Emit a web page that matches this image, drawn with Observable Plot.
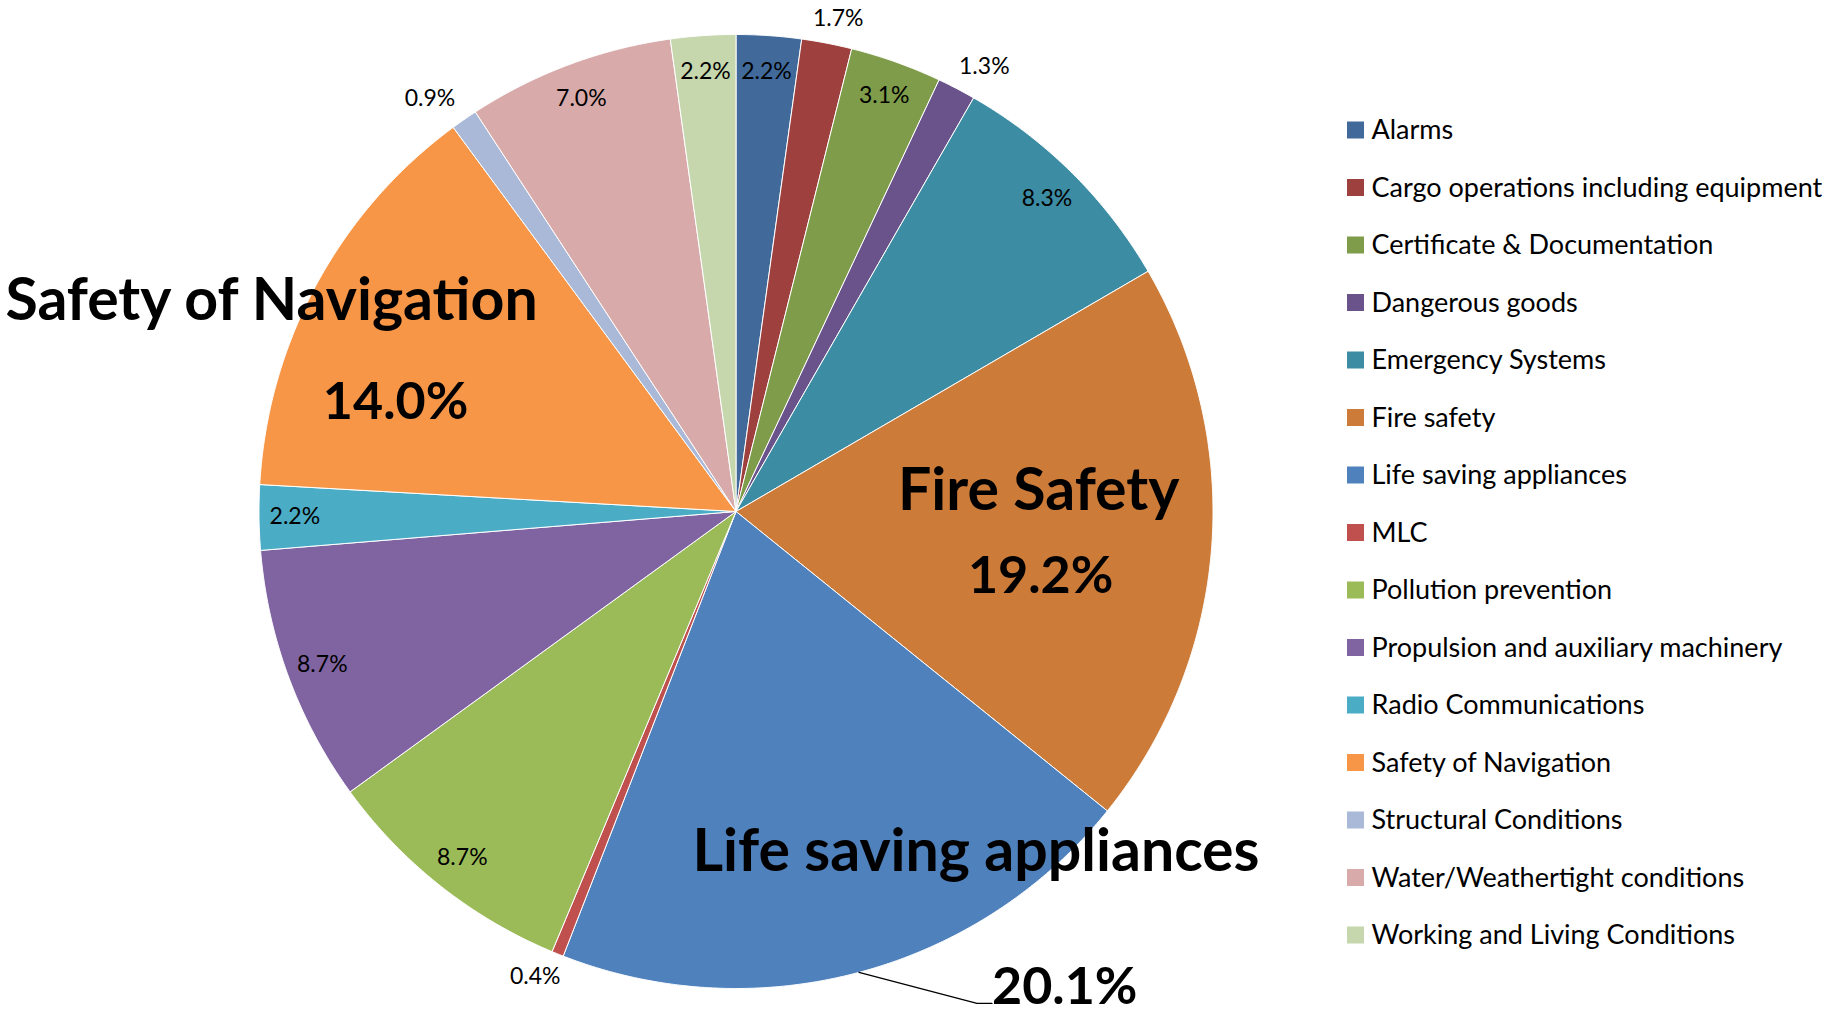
<!DOCTYPE html>
<html>
<head>
<meta charset="utf-8">
<script src="https://cdn.jsdelivr.net/npm/d3@7"></script>
<script src="https://cdn.jsdelivr.net/npm/@observablehq/plot@0.6"></script>
<style>
  html, body { margin: 0; padding: 0; background: #fff; }
  #chart svg { display: block; }
</style>
</head>
<body>
<div id="chart"></div>
<script>
// ---- data ----
const categories = [
  "Alarms",
  "Cargo operations including equipment",
  "Certificate & Documentation",
  "Dangerous goods",
  "Emergency Systems",
  "Fire safety",
  "Life saving appliances",
  "MLC",
  "Pollution prevention",
  "Propulsion and auxiliary machinery",
  "Radio Communications",
  "Safety of Navigation",
  "Structural Conditions",
  "Water/Weathertight conditions",
  "Working and Living Conditions"
];
const values = [2.2, 1.7, 3.1, 1.3, 8.3, 19.2, 20.1, 0.4, 8.7, 8.7, 2.2, 14.0, 0.9, 7.0, 2.2];
const colors = [
  "#416a9b", "#9e413e", "#7f9c4a", "#69538a", "#3c8ca3",
  "#cc7b39", "#4f81bd", "#c0504d", "#9bbb59", "#8064a2",
  "#4bacc6", "#f79646", "#aab9d7", "#d9aaaa", "#c6d6ad"
];
// highlighted categories with their large annotation names
const bigNames = ["Fire safety", "Life saving appliances", "Safety of Navigation"];
const bigTitles = ["Fire Safety", "Life saving appliances", "Safety of Navigation"];

// ---- layout ----
const W = 1845, H = 1017;
const CX = 735.5, CY = 511, R = 477;
const FONT = "Lato, 'Open Sans', sans-serif";
const bigLayout = {
  "Fire safety":            {ndx: -173, ndy: -56, pdx: -171, pdy: 29, anchor: "middle", leader: null},
  "Life saving appliances": {ndx: 117, ndy: -120, pdx: 133, pdy: 15, anchor: "start", leader: [[118, 31], [133, 31]]},
  "Safety of Navigation":   {ndx: -45, ndy: 17, pdx: 79, pdy: 118, anchor: "middle", leader: null}
};

const table = categories.map((c, i) => ({category: c, value: values[i]}));
const arcs = d3.pie().sort(null).value(d => d.value)(table);
const pt = (a, r) => [CX + r * Math.sin(a), CY - r * Math.cos(a)];

// slice polygons
const slicePts = [];
for (const a of arcs) {
  const n = Math.max(2, Math.ceil((a.endAngle - a.startAngle) / (Math.PI / 720)));
  slicePts.push({category: a.data.category, x: CX, y: CY});
  for (let k = 0; k <= n; k++) {
    const ang = a.startAngle + (a.endAngle - a.startAngle) * k / n;
    const [x, y] = pt(ang, R);
    slicePts.push({category: a.data.category, x, y});
  }
  slicePts.push({category: a.data.category, x: CX, y: CY});
}

// small percentage labels
const fmt = v => v.toFixed(1) + "%";
const smallLabels = [];
for (const a of arcs) {
  if (bigNames.includes(a.data.category)) continue;
  const mid = (a.startAngle + a.endAngle) / 2;
  const v = a.data.value;
  if (v >= 2) {
    const [x, y] = pt(mid, R * 0.925);
    smallLabels.push({x, y, text: fmt(v)});
  } else {
    const [x0, y0] = pt(mid, R + 20);
    const x = x0 + Math.sin(mid) * 40;
    const y = y0 - Math.cos(mid) * 5;
    smallLabels.push({x, y, text: fmt(v)});
  }
}

// big labels
const bigNameLabels = [], bigPctLabels = [], leaders = [];
for (const a of arcs) {
  const idx = bigNames.indexOf(a.data.category);
  if (idx < 0) continue;
  const L = bigLayout[a.data.category];
  const mid = (a.startAngle + a.endAngle) / 2;
  const [ex, ey] = pt(mid, R);
  bigNameLabels.push({x: ex + L.ndx, y: ey + L.ndy, text: bigTitles[idx]});
  bigPctLabels.push({x: ex + L.pdx, y: ey + L.pdy, text: fmt(a.data.value), anchor: L.anchor});
  if (L.leader) {
    leaders.push({x: ex, y: ey, id: a.data.category});
    for (const [dx, dy] of L.leader) leaders.push({x: ex + dx, y: ey + dy, id: a.data.category});
  }
}

// legend
const LX = 1347, LY0 = 130, LSTEP = 57.5, SW = 17;
const legendRows = categories.map((c, i) => ({category: c, y: LY0 + i * LSTEP}));

const chart = Plot.plot({
  width: W,
  height: H,
  margin: 0,
  style: {background: "#fff", fontFamily: FONT},
  x: {domain: [0, W], range: [0, W], axis: null},
  y: {domain: [0, H], range: [0, H], axis: null},
  color: {domain: categories, range: colors, type: "ordinal"},
  marks: [
    Plot.line(slicePts, {x: "x", y: "y", z: "category", fill: "category", stroke: "#fff", strokeWidth: 1, curve: "linear", strokeLinejoin: "miter"}),
    Plot.text(smallLabels, {x: "x", y: "y", text: "text", fontSize: 23, fill: "#000", fontFamily: FONT}),
    Plot.line(leaders, {x: "x", y: "y", z: "id", stroke: "#000", strokeWidth: 1.3}),
    Plot.text(bigNameLabels, {x: "x", y: "y", text: "text", fontSize: 59, fontWeight: "bold", fill: "#000", fontFamily: FONT}),
    Plot.text(bigPctLabels.filter(d => d.anchor === "middle"), {x: "x", y: "y", text: "text", fontSize: 52, fontWeight: "bold", fill: "#000", fontFamily: FONT}),
    Plot.text(bigPctLabels.filter(d => d.anchor === "start"), {x: "x", y: "y", text: "text", textAnchor: "start", fontSize: 52, fontWeight: "bold", fill: "#000", fontFamily: FONT}),
    Plot.rect(legendRows, {x1: LX, x2: LX + SW, y1: d => d.y - SW / 2, y2: d => d.y + SW / 2, fill: "category"}),
    Plot.text(legendRows, {x: LX + SW + 7, y: "y", text: "category", textAnchor: "start", fontSize: 27, fill: "#000", fontFamily: FONT})
  ]
});
document.getElementById("chart").appendChild(chart);
</script>
</body>
</html>
